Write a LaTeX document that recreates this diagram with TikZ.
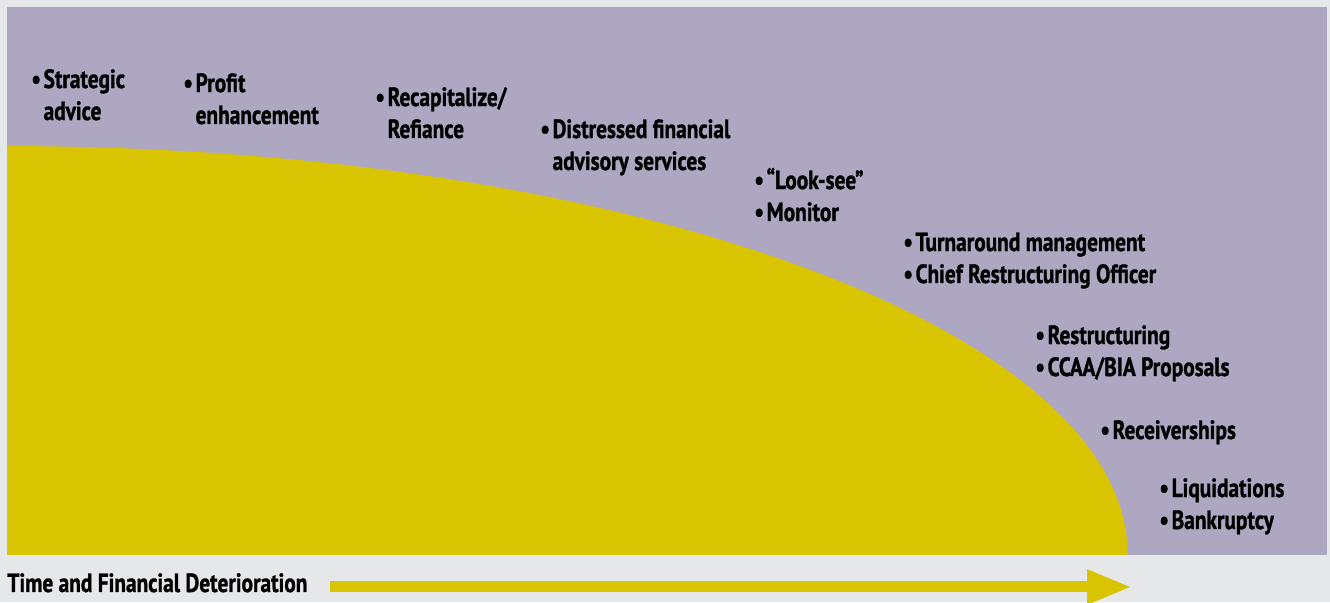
\documentclass[tikz,border=0pt]{standalone}
\usepackage{fontspec}
\setmainfont{PT Sans}[FakeStretch=0.81,BoldFeatures={FakeBold=1.2}]
\usetikzlibrary{arrows.meta}

\definecolor{pagegray}{HTML}{E6E7E9}
\definecolor{lilac}{HTML}{ADA7C1}
\definecolor{mustard}{HTML}{D8C400}
\newcommand{\itm}[1]{\textbullet\kern0.1em #1}
\newcommand{\hang}{\phantom{\textbullet\kern0.1em}}

\begin{document}
\begin{tikzpicture}[x=0.02cm,y=-0.02cm,
   item/.style={anchor=base west,inner sep=0pt,align=left,
                font=\fontsize{15}{18.2}\selectfont\bfseries},
   trend/.style={mustard,line width=0.22cm,-{Triangle[length=0.9cm,width=0.64cm]}}]

   % Background
      \fill[pagegray] (0,0) rectangle (1330,602);
      \fill[lilac] (7,7) rectangle (1327,555);
      \begin{scope}
         \clip (7,7) rectangle (1327,555);
         \fill[mustard] (7,555) ellipse [x radius=22.42cm, y radius=8.18cm];
      \end{scope}

   % Services (base = last line)
      \node[item] (strategic)     at (31,120)   {\itm{Strategic}\\\hang advice};
      \node[item] (profit)        at (183,124)  {\itm{Profit}\\\hang enhancement};
      \node[item] (recap)         at (375,138)  {\itm{Recapitalize/}\\\hang Refiance};
      \node[item] (distressed)    at (540,170)  {\itm{Distressed financial}\\\hang advisory services};
      \node[item] (looksee)       at (754,221)  {\itm{“Look-see”}\\\itm{Monitor}};
      \node[item] (turnaround)    at (903,283)  {\itm{Turnaround management}\\\itm{Chief Restructuring Officer}};
      \node[item] (restructuring) at (1035,376)  {\itm{Restructuring}\\\itm{CCAA/BIA Proposals}};
      \node[item] (receiver)      at (1100,439) {\itm{Receiverships}};
      \node[item] (liquidation)   at (1159,529) {\itm{Liquidations}\\\itm{Bankruptcy}};

   % Axis
      \node[item] (timelabel) at (7,592) {Time and Financial Deterioration};
      \coordinate (arrowstart) at (330,587);
      \coordinate (arrowend)   at (1132,587);
      \draw[trend] (arrowstart) -- (arrowend);
\end{tikzpicture}
\end{document}
